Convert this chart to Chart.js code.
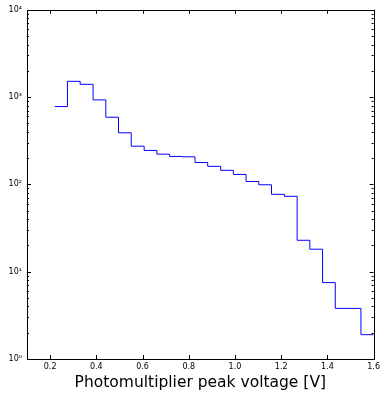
<!DOCTYPE html>
<html>
<head>
<meta charset="utf-8">
<script src="https://cdn.jsdelivr.net/npm/chart.js@4/dist/chart.umd.min.js"></script>
<style>
  html, body { margin: 0; padding: 0; background: #fff; }
  canvas { display: block; }
</style>
</head>
<body>
<canvas id="myChart" width="383" height="393"></canvas>
<script>
// bin edges (V)
const binEdges = [0.22, 0.275, 0.33, 0.386, 0.441, 0.496, 0.551, 0.607, 0.662, 0.717,
                  0.772, 0.827, 0.882, 0.938, 0.993, 1.048, 1.103, 1.158, 1.214, 1.269,
                  1.324, 1.379, 1.434, 1.489, 1.545, 1.6];
// counts per bin
const binCounts = [779, 1516, 1401, 929, 588, 390, 274, 245, 222, 209,
                   207, 178, 161, 145, 130, 108, 99, 77, 73, 22.9,
                   18.1, 7.5, 3.8, 3.8, 1.9];
const xTicks = [0.2, 0.4, 0.6, 0.8, 1.0, 1.2, 1.4, 1.6];
const yTicks = [1, 10, 100, 1000, 10000];
const xTitle = 'Photomultiplier peak voltage [V]';

const sup = {'0': '\u2070', '1': '\u00b9', '2': '\u00b2', '3': '\u00b3', '4': '\u2074'};

function stepPoints() {
    let pts = [];
    for (let i = 0; i < binCounts.length; i++) {
        pts.push({x: binEdges[i], y: binCounts[i]});
    }
    pts.push({x: binEdges[binEdges.length - 1], y: binCounts[binCounts.length - 1]});
    return pts;
}

// frame + inward ticks like matplotlib classic
const frameTicks = {
    id: 'frameTicks',
    afterDraw(chart) {
        const ctx = chart.ctx;
        const a = chart.chartArea;
        const xs = chart.scales.x;
        const ys = chart.scales.y;
        ctx.save();
        ctx.strokeStyle = '#000';
        ctx.lineWidth = 1;
        ctx.beginPath();
        xTicks.forEach(v => {
            const px = Math.round(xs.getPixelForValue(v)) + 0.5;
            ctx.moveTo(px, a.bottom); ctx.lineTo(px, a.bottom - 4);
            ctx.moveTo(px, a.top); ctx.lineTo(px, a.top + 4);
        });
        for (let d = 1; d < 10000; d *= 10) {
            for (let m = 1; m < 10; m++) {
                const py = Math.round(ys.getPixelForValue(d * m)) + 0.5;
                const len = m === 1 ? 4 : 2;
                ctx.moveTo(a.left, py); ctx.lineTo(a.left + len, py);
                ctx.moveTo(a.right, py); ctx.lineTo(a.right - len, py);
            }
        }
        ctx.stroke();
        ctx.strokeRect(Math.round(a.left) + 0.5, Math.round(a.top) + 0.5,
                       Math.round(a.right - a.left), Math.round(a.bottom - a.top));
        ctx.restore();
    }
};

let ctx = document.getElementById('myChart').getContext('2d');
let chart = new Chart(ctx, {
    type: 'line',
    data: {
        datasets: [{
            data: stepPoints(),
            stepped: 'before',
            borderColor: '#0000ff',
            borderWidth: 1,
            pointRadius: 0,
            fill: false
        }]
    },
    options: {
        responsive: false,
        animation: false,
        layout: { padding: { top: 9, right: 5, left: 0, bottom: 0 } },
        plugins: { legend: { display: false }, tooltip: { enabled: false } },
        scales: {
            x: {
                type: 'linear',
                min: 0.1,
                max: 1.6,
                afterBuildTicks: s => { s.ticks = xTicks.map(v => ({value: v})); },
                afterFit: s => { s.height = 34; },
                grid: { display: false, drawTicks: false },
                border: { display: false },
                ticks: {
                    color: '#000',
                    padding: 3,
                    maxRotation: 0,
                    font: { family: 'DejaVu Sans', size: 8 },
                    callback: v => v.toFixed(1)
                },
                title: {
                    display: true,
                    text: xTitle,
                    color: '#000',
                    padding: { top: 0, bottom: 1 },
                    font: { family: 'DejaVu Sans', size: 15.5 }
                }
            },
            y: {
                type: 'logarithmic',
                min: 1,
                max: 10000,
                afterBuildTicks: s => { s.ticks = yTicks.map(v => ({value: v})); },
                afterFit: s => { s.width = 27; },
                grid: { display: false, drawTicks: false },
                border: { display: false },
                ticks: {
                    color: '#000',
                    padding: 5,
                    font: { family: 'DejaVu Sans', size: 8 },
                    callback: v => '10' + sup[String(Math.round(Math.log10(v)))]
                }
            }
        }
    },
    plugins: [frameTicks]
});
</script>
</body>
</html>
